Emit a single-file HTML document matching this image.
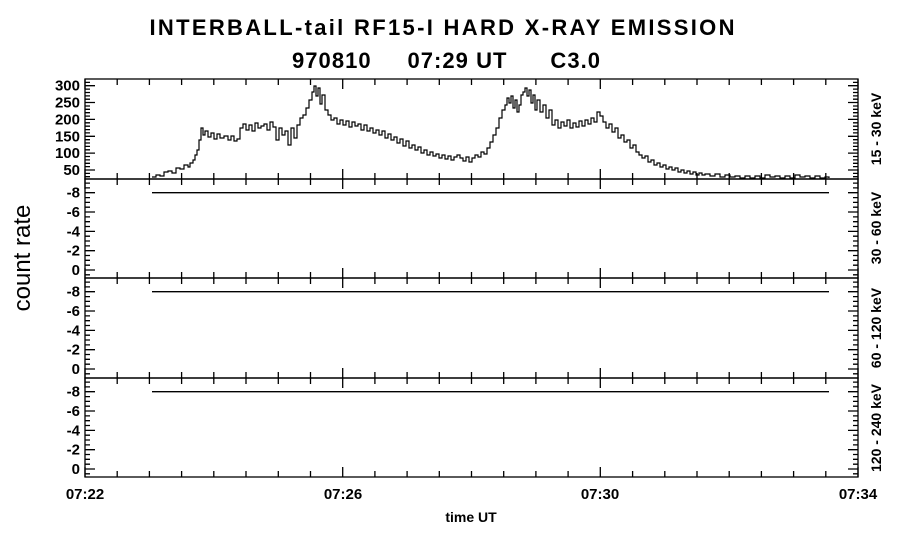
<!DOCTYPE html>
<html><head><style>
body{margin:0;background:#fff;}
svg{display:block;font-family:"Liberation Sans",Arial,sans-serif;}
</style></head><body>
<svg width="900" height="542" xmlns="http://www.w3.org/2000/svg" xmlns:xlink="http://www.w3.org/1999/xlink">
<defs>
<path id="xt" d="M85 0v10M117.2 0v6M149.4 0v6M181.6 0v6M213.8 0v6M246 0v6M278.3 0v6M310.5 0v6M342.7 0v10M374.9 0v6M407.1 0v6M439.3 0v6M471.5 0v6M503.7 0v6M535.9 0v6M568.1 0v6M600.3 0v10M632.6 0v6M664.8 0v6M697 0v6M729.2 0v6M761.4 0v6M793.6 0v6M825.8 0v6M858 0v10" stroke="#000" stroke-width="1.3" fill="none"/>
<path id="yt" d="M85 176.7h5M85 173.4h5M85 170h10M85 166.6h5M85 163.3h5M85 159.9h5M85 156.5h5M85 153.1h10M85 149.8h5M85 146.4h5M85 143h5M85 139.7h5M85 136.3h10M85 132.9h5M85 129.6h5M85 126.2h5M85 122.8h5M85 119.4h10M85 116.1h5M85 112.7h5M85 109.3h5M85 106h5M85 102.5h10M85 99.2h5M85 95.9h5M85 92.5h5M85 89.1h5M85 85.7h10M85 82.4h5" stroke="#000" stroke-width="1.3" fill="none"/>
<path id="yl" d="M85 4.1h5M85 8.9h5M85 13.7h10M85 18.6h5M85 23.4h5M85 28.2h5M85 33h10M85 37.9h5M85 42.7h5M85 47.5h5M85 52.4h10M85 57.2h5M85 62h5M85 66.9h5M85 71.7h10M85 76.5h5M85 81.3h5M85 86.2h5M85 91h10M85 95.8h5" stroke="#000" stroke-width="1.3" fill="none"/>
<g id="ll" font-size="15" font-weight="bold" text-anchor="end">
<text x="80" y="18.7">-8</text><text x="80" y="38">-6</text><text x="80" y="57.4">-4</text><text x="80" y="76.7">-2</text><text x="80" y="96">0</text>
</g>
</defs>
<text x="442" y="35" font-size="22" font-weight="bold" text-anchor="middle" textLength="585" lengthAdjust="spacing">INTERBALL-tail  RF15-I  HARD  X-RAY  EMISSION</text>
<text x="446" y="68" font-size="22" font-weight="bold" text-anchor="middle" textLength="308" lengthAdjust="spacing" xml:space="preserve">970810     07:29 UT      C3.0</text>
<text transform="translate(30,258) rotate(-90)" font-size="24" text-anchor="middle">count rate</text>
<g font-size="15" font-weight="bold" text-anchor="middle">
<text x="85" y="499">07:22</text><text x="343" y="499">07:26</text><text x="600" y="499">07:30</text><text x="858" y="499">07:34</text>
<text x="471" y="522" font-size="14">time UT</text>
</g>
<g stroke="#000" fill="none" stroke-width="1.3">
<rect x="85" y="79" width="773" height="100"/>
<rect x="85" y="179" width="773" height="99"/>
<rect x="85" y="278" width="773" height="100"/>
<rect x="85" y="378" width="773" height="99"/>
<line x1="152" y1="192.7" x2="829" y2="192.7"/>
<line x1="152" y1="291.7" x2="829" y2="291.7"/>
<line x1="152" y1="391.7" x2="829" y2="391.7"/>
</g>
<use xlink:href="#xt" transform="translate(0,79)"/>
<use xlink:href="#xt" transform="translate(0,179)"/>
<use xlink:href="#xt" transform="translate(0,278)"/>
<use xlink:href="#xt" transform="translate(0,378)"/>
<use xlink:href="#xt" transform="translate(0,179) scale(1,-1)"/>
<use xlink:href="#xt" transform="translate(0,278) scale(1,-1)"/>
<use xlink:href="#xt" transform="translate(0,378) scale(1,-1)"/>
<use xlink:href="#xt" transform="translate(0,477) scale(1,-1)"/>
<use xlink:href="#yt"/>
<use xlink:href="#yt" transform="translate(943,0) scale(-1,1)"/>
<use xlink:href="#yl" transform="translate(0,179)"/>
<use xlink:href="#yl" transform="translate(943,179) scale(-1,1)"/>
<use xlink:href="#yl" transform="translate(0,278)"/>
<use xlink:href="#yl" transform="translate(943,278) scale(-1,1)"/>
<use xlink:href="#yl" transform="translate(0,378)"/>
<use xlink:href="#yl" transform="translate(943,378) scale(-1,1)"/>
<g font-size="15" font-weight="bold" text-anchor="end">
<text x="80" y="175">50</text><text x="80" y="158.1">100</text><text x="80" y="141.3">150</text><text x="80" y="124.4">200</text><text x="80" y="107.5">250</text><text x="80" y="90.7">300</text>
</g>
<use xlink:href="#ll" transform="translate(0,179)"/>
<use xlink:href="#ll" transform="translate(0,278)"/>
<use xlink:href="#ll" transform="translate(0,378)"/>
<g font-size="14" font-weight="bold" text-anchor="middle">
<text transform="translate(881,129) rotate(-90)">15 - 30 keV</text>
<text transform="translate(881,228) rotate(-90)">30 - 60 keV</text>
<text transform="translate(881,328) rotate(-90)">60 - 120 keV</text>
<text transform="translate(881,428) rotate(-90)">120 - 240 keV</text>
</g>
<path fill="none" stroke="#000" stroke-width="1.2" d="M152 177H156V175H160V176H164V172H168V171H172V173H176V168H180V169H184V165H188V167H190V163H193V160H195V155H197V150H199V140H201V128H203V135H205V131H208V137H211V133H214V139H217V134H220V138H224V136H228V140H231V136H234V141H237V139H240V128H243V124H246V130H249V125H252V131H255V123H258V128H261V126H264V124H267V130H270V122H273V127H276V140H279V128H282V135H285V131H288V145H291V128H294V138H297V125H300V118H303V115H306V108H309V100H312V92H314V86H316V96H318V88H320V104H322V95H325V110H328V115H331V120H334V118H337V124H340V120H343V125H346V121H349V127H352V122H355V126H358V124H361V130H364V125H367V131H370V128H373V133H376V130H379V135H382V131H385V138H388V134H391V140H394V137H397V143H400V139H403V146H406V141H409V148H412V145H415V150H418V147H421V153H424V150H427V155H430V152H433V156H436V154H439V158H442V155H445V159H448V156H451V160H454V157H457V155H460V158H463V161H466V157H469V162H472V158H475V155H478V157H481V152H484V154H487V148H490V142H493V135H496V128H499V118H502V110H505V105H507V98H509V103H511V96H513V108H515V100H517V112H519V105H521V95H523V92H525V88H527V96H529V90H531V103H533V95H535V110H537V100H540V112H543V105H546V118H549V110H552V125H555V120H558V128H561V122H564V126H567V120H570V128H573V123H576V127H579V121H582V126H585V120H588V124H591V118H594V122H597V112H600V116H603V122H606V128H609V124H612V132H615V128H618V138H621V135H624V142H627V140H630V148H633V145H636V152H639V155H642V158H645V156H648V162H651V160H654V165H657V163H660V167H663V165H666V169H669V167H672V170H675V168H678V172H681V170H684V173H687V171H690V174H693V172H696V175H699V173H702V175H705V174H710V176H715V174H720V177H725V175H730V177H735V176H740V178H745V176H750V178H755V176H760V178H765V175H770V177H775V176H780V178H785V176H790V178H795V175H800V177H805V176H810V178H815V176H820V178H825V177H829V178"/>
</svg>
</body></html>
